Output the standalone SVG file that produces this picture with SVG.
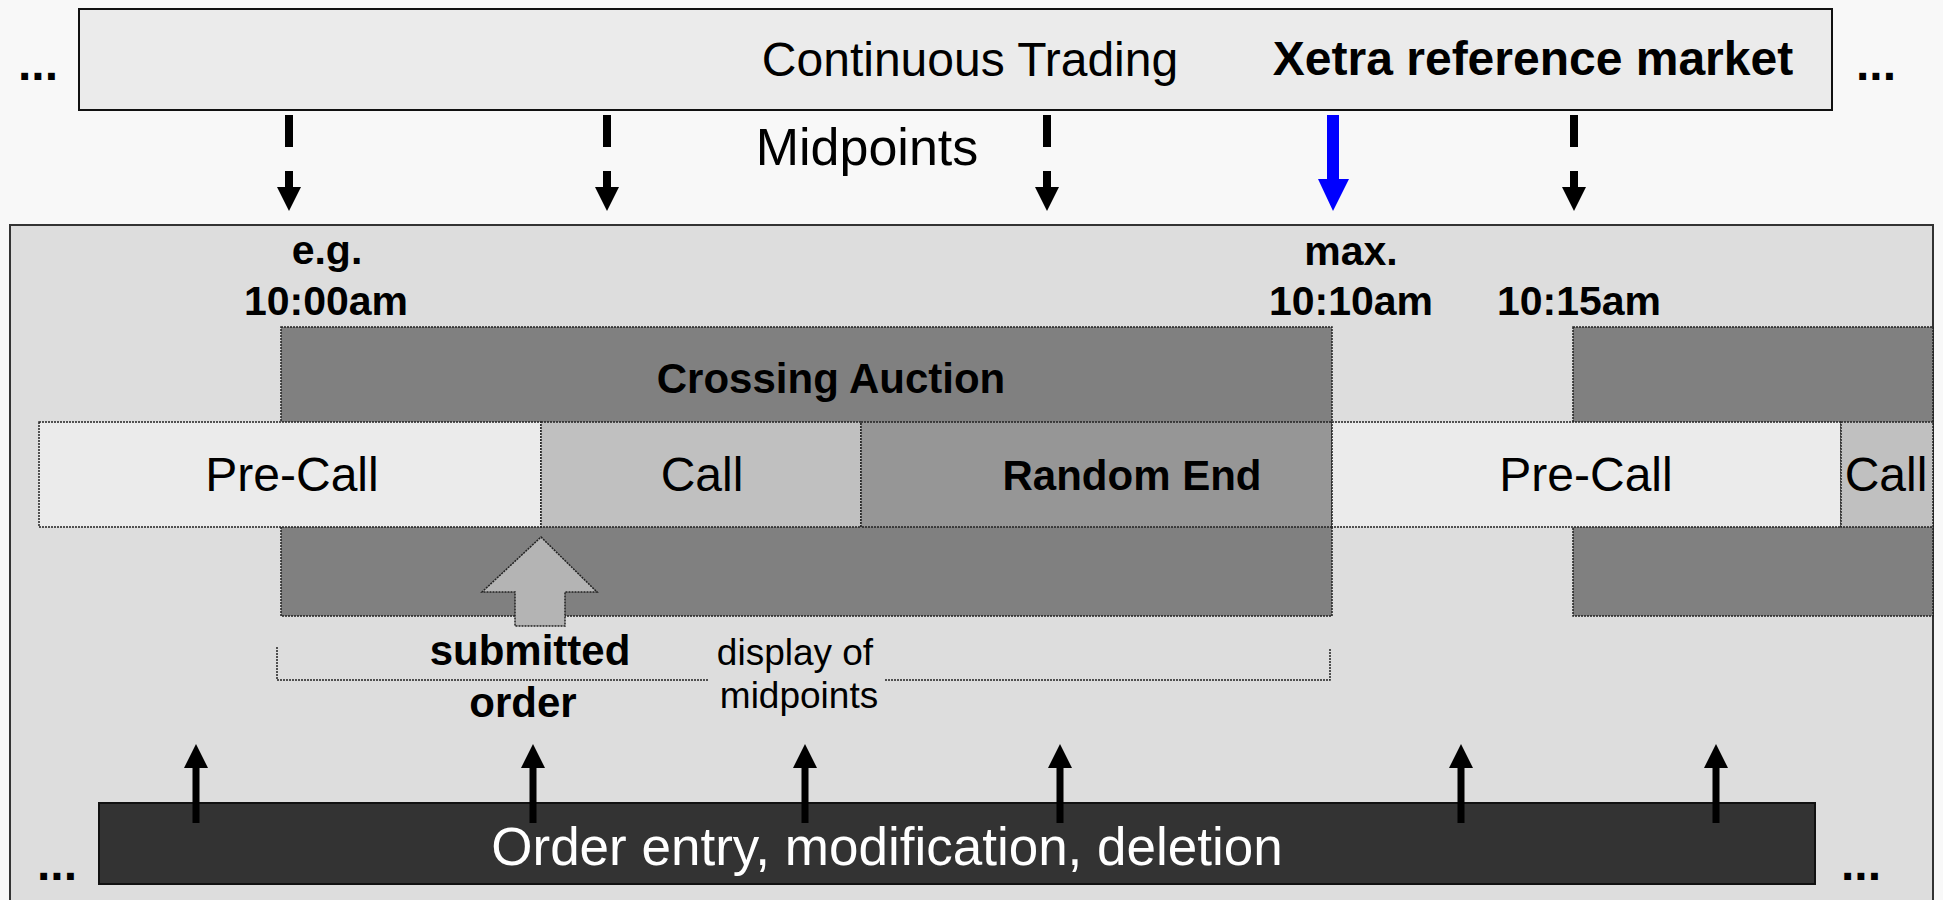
<svg xmlns="http://www.w3.org/2000/svg" width="1943" height="900" viewBox="0 0 1943 900">
<style>
text{font-family:"Liberation Sans",Arial,sans-serif;fill:#000}
.b{font-weight:bold}
.dot{stroke:#222;stroke-width:1.5;stroke-dasharray:2 1}
.ph{stroke:#222;stroke-width:1.5;stroke-dasharray:2 1}
</style>
<defs>
<g id="downArrow">
<rect x="-4" y="115" width="8" height="32" fill="#000"/>
<rect x="-4" y="171" width="8" height="17" fill="#000"/>
<polygon points="-12,187 12,187 0,211" fill="#000"/>
</g>
<g id="upArrow">
<rect x="-3.5" y="766" width="7" height="57" fill="#000"/>
<polygon points="-12,768 12,768 0,744" fill="#000"/>
</g>
</defs>
<rect x="0" y="0" width="1943" height="900" fill="#f8f8f8"/>

<g id="continuous-trading">
<rect x="79" y="9" width="1753" height="101" fill="#ebebeb" stroke="#111" stroke-width="2"/>
<text x="970" y="76" font-size="48" text-anchor="middle">Continuous Trading</text>
<text x="1533" y="75" font-size="48" class="b" text-anchor="middle">Xetra reference market</text>
</g>
<text x="38" y="80" font-size="48" class="b" text-anchor="middle">...</text>
<text x="1876" y="80" font-size="48" class="b" text-anchor="middle">...</text>
<text x="867" y="165" font-size="52" text-anchor="middle">Midpoints</text>

<g id="main-panel">
<rect x="10" y="225" width="1923" height="690" fill="#dddddd" stroke="#333" stroke-width="2"/>
</g>

<g id="crossing-auction-1">
<rect x="281" y="327" width="1051" height="289" fill="#808080" class="dot"/>
<text x="831" y="393" font-size="42" class="b" text-anchor="middle">Crossing Auction</text>
</g>
<g id="crossing-auction-2">
<rect x="1573" y="327" width="360" height="289" fill="#808080" class="dot"/>
</g>

<g id="pre-call-1">
<rect x="39" y="422" width="502" height="105" fill="#ebebeb" class="ph"/>
<text x="292" y="491" font-size="48" text-anchor="middle">Pre-Call</text>
</g>
<g id="call-1">
<rect x="541" y="422" width="320" height="105" fill="#c0c0c0" class="ph"/>
<text x="702" y="491" font-size="48" text-anchor="middle">Call</text>
</g>
<g id="random-end">
<rect x="861" y="422" width="471" height="105" fill="#969696" class="ph"/>
<text x="1132" y="490" font-size="42" class="b" text-anchor="middle">Random End</text>
</g>
<g id="pre-call-2">
<rect x="1332" y="422" width="509" height="105" fill="#ebebeb" class="ph"/>
<text x="1586" y="491" font-size="48" text-anchor="middle">Pre-Call</text>
</g>
<g id="call-2">
<rect x="1841" y="422" width="92" height="105" fill="#c0c0c0" class="ph"/>
<text x="1886" y="491" font-size="48" text-anchor="middle">Call</text>
</g>

<g id="time-labels">
<text x="327" y="264" font-size="41" class="b" text-anchor="middle">e.g.</text>
<text x="326" y="315" font-size="41" class="b" text-anchor="middle">10:00am</text>
<text x="1351" y="265" font-size="41" class="b" text-anchor="middle">max.</text>
<text x="1351" y="315" font-size="41" class="b" text-anchor="middle">10:10am</text>
<text x="1579" y="315" font-size="41" class="b" text-anchor="middle">10:15am</text>
</g>

<g id="submitted-order">
<polygon points="541,537 597,592 565,592 565,626 515,626 515,592 482,592" fill="#b4b4b4" stroke="#222" stroke-width="1.5" stroke-dasharray="2 1"/>
<text x="530" y="665" font-size="42" class="b" text-anchor="middle">submitted</text>
<text x="523" y="717" font-size="42" class="b" text-anchor="middle">order</text>
</g>

<g id="display-midpoints">
<polyline points="277,647 277,680 709,680" fill="none" class="dot"/>
<polyline points="885,680 1330,680 1330,649" fill="none" class="dot"/>
<text x="795" y="665" font-size="37" text-anchor="middle">display of</text>
<text x="799" y="708" font-size="37" text-anchor="middle">midpoints</text>
</g>

<g id="order-entry">
<rect x="99" y="803" width="1716" height="81" fill="#333333" stroke="#111" stroke-width="2"/>
<text x="887" y="865" font-size="53" text-anchor="middle" style="fill:#fff">Order entry, modification, deletion</text>
</g>
<text x="57" y="880" font-size="48" class="b" text-anchor="middle">...</text>
<text x="1861" y="880" font-size="48" class="b" text-anchor="middle">...</text>

<g id="connectors">
<use href="#downArrow" x="289"/>
<use href="#downArrow" x="607"/>
<use href="#downArrow" x="1047"/>
<use href="#downArrow" x="1574"/>
<g id="blue-arrow">
<rect x="1327" y="115" width="12" height="66" fill="#0000ff"/>
<polygon points="1318,179 1349,179 1333,211" fill="#0000ff"/>
</g>
<use href="#upArrow" x="196"/>
<use href="#upArrow" x="533"/>
<use href="#upArrow" x="805"/>
<use href="#upArrow" x="1060"/>
<use href="#upArrow" x="1461"/>
<use href="#upArrow" x="1716"/>
</g>
</svg>
